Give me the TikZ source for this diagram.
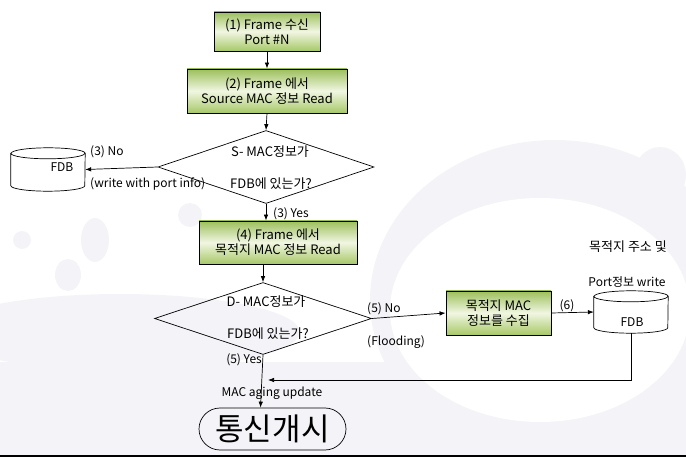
\documentclass[tikz,border=0pt]{standalone}
\usepackage{fontspec}
\setmainfont{Noto Sans CJK KR}
\usetikzlibrary{shapes.geometric,shapes.misc,arrows.meta}
\definecolor{bgray}{HTML}{F4F3F8}
\definecolor{gtop}{HTML}{9CBF5C}
\definecolor{gmid}{HTML}{F1F6E2}
\definecolor{gbot}{HTML}{A7C868}
% drum outline round an (invisible) node
\newcommand{\fdbdrum}[1]{%
  \draw[line width=0.7pt,fill=white] ([yshift=-5.5pt]#1.north west) -- ([yshift=5.5pt]#1.south west)
    arc[start angle=180,end angle=360,x radius=37pt,y radius=5.5pt] -- ([yshift=-5.5pt]#1.north east)
    arc[start angle=0,end angle=180,x radius=37pt,y radius=5.5pt] -- cycle;
  \draw[line width=0.7pt] ([yshift=-5.5pt]#1.north west) arc[start angle=180,end angle=360,x radius=37pt,y radius=5.5pt];}

\begin{document}
\begin{tikzpicture}[x=1pt,y=-1pt,>={Latex[length=6pt,width=4.5pt]},
  txt/.style={font=\fontsize{12}{15}\selectfont,inner sep=1pt},
  htxt/.style={font=\fontsize{13}{15}\selectfont,inner sep=1pt},
  proc/.style={draw,line width=0.9pt,htxt,align=center,top color=gtop,bottom color=gbot,middle color=gmid,inner sep=0pt},
  dec/.style={draw,diamond,line width=0.7pt,inner sep=0pt,minimum width=216pt,minimum height=73pt},
  dbbox/.style={inner sep=0pt,minimum width=74pt,minimum height=43pt},
  term/.style={draw,rounded rectangle,line width=0.7pt,inner sep=0pt,minimum width=147pt,minimum height=42pt,font=\fontsize{31}{31}\selectfont},
  flow/.style={->,line width=0.7pt}]
\useasboundingbox (0,0) rectangle (686,457);
% background
\fill[bgray] (555,300) ellipse [x radius=185,y radius=160];
\fill[bgray] (0,362) rectangle (686,457);
\fill[bgray] (120,332) ellipse [x radius=180,y radius=38];
\fill[white] (540,310) ellipse [x radius=150,y radius=112];
\fill[bgray] (22,240) circle (9);
\fill[bgray] (68,275) ellipse [x radius=13,y radius=16];
\fill[bgray] (95,240) ellipse [x radius=14,y radius=22];
\fill[bgray] (190,215) circle (12);
\fill[bgray] (660,175) ellipse [x radius=26,y radius=28];
\draw[line width=1.5pt] (0,456) -- (686,456);

\node[proc,minimum width=106pt,minimum height=39pt] (frame) at (267,31.5) {(1) Frame 수신\\Port \#N};
\node[proc,minimum width=160pt,minimum height=44pt] (srcread) at (267,91) {(2) Frame 에서\\Source MAC 정보 Read};
\node[dec] (smac) at (266,167) {};
\node[htxt] (smacA) at (270,152) {S- MAC정보가};
\node[htxt] (smacB) at (271,184) {FDB에 있는가?};
\node[dbbox] (fdbL) at (48,169.5) {};
\fdbdrum{fdbL}
\node[txt] (fdbLt) at (62,167) {FDB};
\node[txt,anchor=west] (no3) at (89,152) {(3) No};
\node[txt,anchor=west] (wport) at (89,184) {(write with port info)};
\node[txt,anchor=west] (yes3) at (272,214) {(3) Yes};
\node[proc,minimum width=158pt,minimum height=43pt] (dstread) at (278,242.5) {(4) Frame 에서\\목적지 MAC 정보 Read};
\node[dec,minimum width=217pt,minimum height=72pt] (dmac) at (263,318.5) {};
\node[htxt] (dmacA) at (266,302) {D- MAC정보가};
\node[htxt] (dmacB) at (268,334) {FDB에 있는가?};
\node[txt,anchor=west] (no5) at (366,309) {(5) No};
\node[txt,anchor=west] (flood) at (366,342) {(Flooding)};
\node[proc,minimum width=105pt,minimum height=44pt] (collect) at (498.5,313) {목적지 MAC\\정보를 수집};
\node[txt] (six) at (567,306) {(6)};
\node[dbbox,minimum height=42pt] (fdbR) at (631,312) {};
\fdbdrum{fdbR}
\node[txt] (fdbRt) at (632,322) {FDB};
\node[htxt] (dstaddr) at (628,247) {목적지 주소 및};
\node[txt] (portw) at (627,282) {Port정보 write};
\node[txt,anchor=east] (yes5) at (263,360) {(5) Yes};
\node[txt] (aging) at (272,393) {MAC aging update};
\node[term] (start) at (272.5,429) {통신개시};
\coordinate (back) at (268,380);

\draw[flow] (frame) -- (srcread);
\draw[flow] (srcread.south) -- (smac.north);
\draw[flow] (smac.west) -- (fdbL.east);
\draw[flow] (smac.south) -- (smac.south |- dstread.north);
\draw[flow] (dmac.north |- dstread.south) -- (dmac.north);
\draw[flow] (dmac.east) -- (collect.west);
\draw[flow] (collect.east) -- (fdbR.west);
\draw[flow] (fdbR.south) |- (back);
\draw[flow] (dmac.south) -- ([xshift=-12pt]start.north);
\end{tikzpicture}
\end{document}
